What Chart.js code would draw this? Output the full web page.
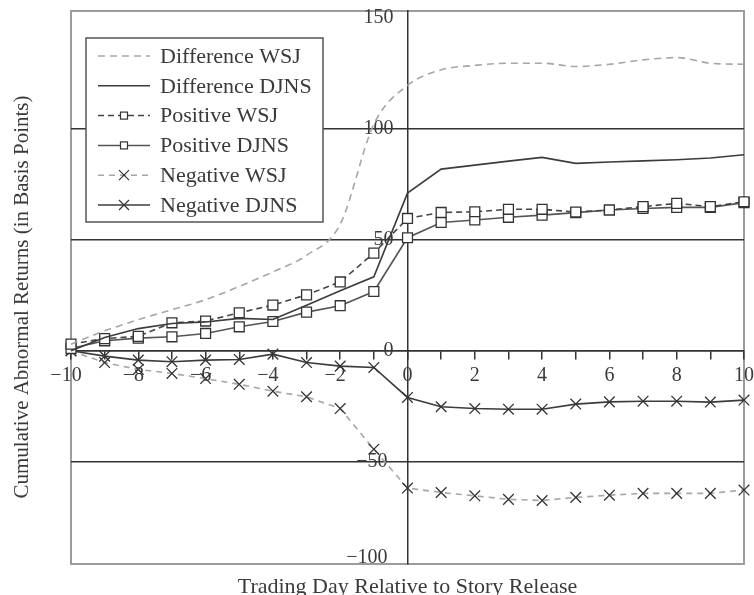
<!DOCTYPE html>
<html>
<head>
<meta charset="utf-8">
<script src="https://cdn.jsdelivr.net/npm/chart.js@4/dist/chart.umd.min.js"></script>
<style>
  html,body{margin:0;padding:0;background:#fff}
  #wrap{position:relative;width:754px;height:595px}
</style>
</head>
<body>
<div id="wrap"><canvas id="c" width="754" height="595"></canvas></div>
<script>
// ---- data (cumulative abnormal returns, basis points) ----
const days = [-10,-9,-8,-7,-6,-5,-4,-3,-2,-1,0,1,2,3,4,5,6,7,8,9,10];
const diffWSJ  = [3,9,14,18.5,23,29,35.5,43,57,102,119.5,126.5,128.5,129.5,129.5,128,129,131,132,129.5,129];
const diffDJNS = [0,6,10,12.3,13,14.6,14.1,20.5,27,33.3,71,81.8,83.6,85.4,87.1,84.4,85,85.5,86,86.8,88.3];
const posWSJ   = [3,5.5,6.5,12.6,13.4,17.1,20.6,25.2,31,44,59.6,62.3,62.6,63.7,63.7,62.5,63.4,64.9,66.4,64.9,67.1];
const posDJNS  = [1,4.5,5.7,6.3,7.8,10.8,13.2,17.4,20.3,26.7,50.9,57.8,58.9,60.1,61.1,62.2,63.4,64.1,64.6,64.6,66.7];
const negWSJ   = [0,-5.3,-8.4,-10.2,-12.5,-15.1,-18.2,-20.7,-26,-44.3,-61.8,-63.8,-65.3,-66.9,-67.4,-66,-65,-64.2,-64.2,-64.2,-62.7];
const negDJNS  = [0,-2.4,-4.2,-4.9,-4.2,-3.9,-1.5,-5.3,-6.9,-7.5,-21,-25.2,-26,-26.3,-26.3,-24,-23,-22.7,-22.7,-23.1,-22.2];
const seriesNames = ["Difference WSJ","Difference DJNS","Positive WSJ","Positive DJNS","Negative WSJ","Negative DJNS"];
const yTicks = [-100,-50,0,50,100,150];
const xTitle = "Trading Day Relative to Story Release";
const yTitle = "Cumulative Abnormal Returns (in Basis Points)";

const SERIF = "'Liberation Serif','DejaVu Serif',serif";
const INK = "#3a3a3a";
const pts = arr => days.map((d,i)=>({x:d,y:arr[i]}));
const fmt = v => v<0 ? "\u2212"+Math.abs(v) : String(v);
// centred axes should not push the plot area in
const noPad = s => { s.paddingTop=0; s.paddingBottom=0; s.paddingLeft=0; s.paddingRight=0; };

const LIGHT="#a6a6a6", DARK="#3c3c3c";
function ds(i,data,color,dash,marker){
  return { label:seriesNames[i], data:pts(data), borderColor:color, borderWidth:1.6,
    borderDash:dash||[], fill:false, clip:false,
    cubicInterpolationMode: i===0 ? "monotone" : "default", tension: i===0 ? 0.4 : 0,
    pointStyle: marker||"circle", pointRadius: marker ? (marker==="rect"?7:7.5) : 0,
    pointBorderColor:"#333", pointBackgroundColor:"#fff", pointBorderWidth:1.3, pointHoverRadius:0 };
}

// frame around the plot, axis titles, boxed legend
const decor = {
  id:"decor",
  beforeDraw(chart){
    const {ctx,chartArea:a}=chart;
    ctx.save(); ctx.fillStyle="#fff"; ctx.fillRect(0,0,chart.width,chart.height);
    ctx.strokeStyle="#9c9c9c"; ctx.lineWidth=2; ctx.strokeRect(a.left,a.top,a.right-a.left,a.bottom-a.top);
    ctx.restore();
  },
  afterDraw(chart){
    const {ctx,chartArea:a}=chart;
    ctx.save();
    ctx.fillStyle=INK; ctx.textAlign="center"; ctx.textBaseline="alphabetic";
    ctx.font="22px "+SERIF;
    ctx.fillText(xTitle, chart.scales.x.getPixelForValue(0), 593);
    ctx.font="21px "+SERIF;
    ctx.translate(28,297); ctx.rotate(-Math.PI/2);
    ctx.fillText(yTitle,0,0);
    ctx.restore();

    // legend box
    const L=a.left+15, T=a.top+27, W=237, H=184;
    ctx.save();
    ctx.fillStyle="#fff"; ctx.fillRect(L,T,W,H);
    ctx.strokeStyle="#555"; ctx.lineWidth=1.5; ctx.strokeRect(L,T,W,H);
    chart.data.datasets.forEach((d,i)=>{
      const y=T+18+i*29.8, x0=L+12, x1=L+64, xm=(x0+x1)/2;
      ctx.setLineDash(d.borderDash); ctx.strokeStyle=d.borderColor; ctx.lineWidth=1.5;
      ctx.beginPath(); ctx.moveTo(x0,y); ctx.lineTo(x1,y); ctx.stroke();
      ctx.setLineDash([]); ctx.strokeStyle="#333"; ctx.lineWidth=1.2;
      if(d.pointRadius>0 && d.pointStyle==="rect"){
        ctx.fillStyle="#fff"; ctx.fillRect(xm-3.5,y-3.5,7,7); ctx.strokeRect(xm-3.5,y-3.5,7,7);
      } else if(d.pointRadius>0 && d.pointStyle==="crossRot"){
        ctx.beginPath(); ctx.moveTo(xm-5,y-5); ctx.lineTo(xm+5,y+5); ctx.moveTo(xm+5,y-5); ctx.lineTo(xm-5,y+5); ctx.stroke();
      }
      ctx.fillStyle=INK; ctx.font="22px "+SERIF; ctx.textAlign="left"; ctx.textBaseline="middle";
      ctx.fillText(d.label, L+74, y+1);
    });
    ctx.restore();
  }
};

new Chart(document.getElementById("c").getContext("2d"),{
  type:"line",
  data:{ datasets:[
    ds(0,diffWSJ, LIGHT,[7,5]),
    ds(1,diffDJNS,DARK),
    ds(2,posWSJ,  "#444",[6,4],"rect"),
    ds(3,posDJNS, "#555",null,"rect"),
    ds(4,negWSJ,  LIGHT,[6,5],"crossRot"),
    ds(5,negDJNS, DARK,null,"crossRot")
  ]},
  options:{
    responsive:false, animation:false, devicePixelRatio:1,
    layout:{ padding:{left:71,right:10,top:11,bottom:31} },
    plugins:{ legend:{display:false}, tooltip:{enabled:false} },
    scales:{
      x:{ type:"linear", position:{y:0}, min:-10, max:10, afterFit:noPad,
        ticks:{ stepSize:1, autoSkip:false, maxRotation:0, padding:7, color:INK,
          font:{family:SERIF,size:20,lineHeight:1},
          callback:v => v%2===0 ? (v<0 ? fmt(v)+"\u2002" : fmt(v)) : "" },
        grid:{ drawOnChartArea:false, drawTicks:true, tickLength:8, color:"#333", lineWidth:1.5 },
        border:{ color:"#333", width:1.5 } },
      y:{ type:"linear", position:{x:0}, min:-96, max:153, afterFit:noPad,
        afterBuildTicks:s => { s.ticks = yTicks.map(v => ({value:Math.max(v, s.min+3)})); },
        // labels sit at the axis line itself; trailing spaces keep them clear of it
        ticks:{ color:INK, font:{family:SERIF,size:20,lineHeight:1},
          callback:(v,i) => fmt(yTicks[i]) + (yTicks[i]<0 ? "\u2002\u2002" : "\u2002\u2009") },
        grid:{ drawTicks:false, lineWidth:1.5,
          color:c => (c.tick && Math.abs(c.tick.value)<=100 && c.tick.value%50===0) ? "#333" : "rgba(0,0,0,0)" },
        border:{ color:"#333", width:1.5 } }
    }
  },
  plugins:[decor]
});
</script>
</body>
</html>
